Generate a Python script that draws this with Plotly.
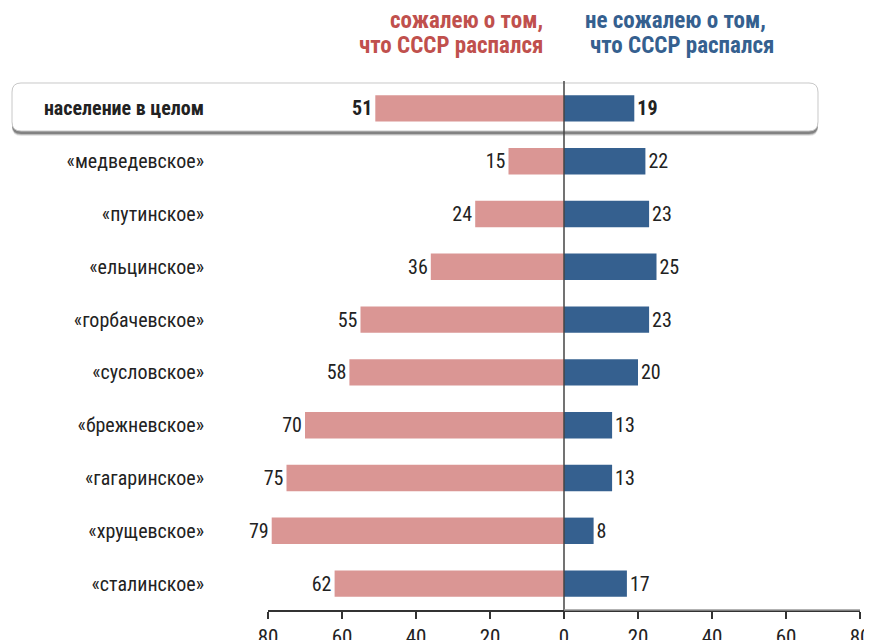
import plotly.graph_objects as go

categories = ["население в целом", "«медведевское»", "«путинское»", "«ельцинское»",
              "«горбачевское»", "«сусловское»", "«брежневское»", "«гагаринское»",
              "«хрущевское»", "«сталинское»"]
regret = [51, 15, 24, 36, 55, 58, 70, 75, 79, 62]
no_regret = [19, 22, 23, 25, 23, 20, 13, 13, 8, 17]
tick_vals = [-80, -60, -40, -20, 0, 20, 40, 60, 80]
tick_text = ["80", "60", "40", "20", "0", "20", "40", "60", "80"]

FONT = "Roboto Condensed, DejaVu Sans Condensed, sans-serif"
OFF = 8  # page body margin
W, H = 872 - OFF, 640 - OFF
L, R, T, B = 268 - OFF, 12, 82 - OFF, 30
PW, PH = W - L - R, H - T - B


def px(x):  # page pixel -> paper
    return (x - OFF - L) / PW


def py(y):
    return (H - B - (y - OFF)) / PH


def rounded(x0, y0, x1, y1, r):
    def P(x, y):
        return f"{px(x):.5f},{py(y):.5f}"
    return (f"M {P(x0 + r, y0)} L {P(x1 - r, y0)} Q {P(x1, y0)} {P(x1, y0 + r)} "
            f"L {P(x1, y1 - r)} Q {P(x1, y1)} {P(x1 - r, y1)} "
            f"L {P(x0 + r, y1)} Q {P(x0, y1)} {P(x0, y1 - r)} "
            f"L {P(x0, y0 + r)} Q {P(x0, y0)} {P(x0 + r, y0)} Z")


def lab(v, i):
    return f"<b>{v}</b>" if i == 0 else str(v)


ylabels = [f"<b>{c}</b>" if i == 0 else c for i, c in enumerate(categories)]

fig = go.Figure()
fig.add_trace(go.Bar(
    y=ylabels, x=[-v for v in regret], orientation="h",
    marker=dict(color="#DA9694", line=dict(width=0)),
    text=[lab(v, i) for i, v in enumerate(regret)], textposition="outside",
    textfont=dict(family=FONT, size=20, color="#222222"),
    cliponaxis=False, width=0.5, hoverinfo="skip", showlegend=False))
fig.add_trace(go.Bar(
    y=ylabels, x=no_regret, orientation="h",
    marker=dict(color="#35608F", line=dict(width=0)),
    text=[lab(v, i) for i, v in enumerate(no_regret)], textposition="outside",
    textfont=dict(family=FONT, size=20, color="#222222"),
    cliponaxis=False, width=0.5, hoverinfo="skip", showlegend=False))

shapes = []
for off, col in [(5, "rgba(0,0,0,0.10)"), (4, "rgba(0,0,0,0.18)"), (3, "rgba(0,0,0,0.30)")]:
    shapes.append(dict(type="path", xref="paper", yref="paper", layer="below",
                       path=rounded(12, 83 + off, 818, 131 + off, 9),
                       fillcolor=col, line=dict(width=0)))
shapes.append(dict(type="path", xref="paper", yref="paper", layer="below",
                   path=rounded(12, 83, 818, 131, 9),
                   fillcolor="white", line=dict(color="#c8c8c8", width=1)))
shapes.append(dict(type="line", xref="x", yref="paper", x0=0, x1=0, y0=0, y1=py(81),
                   line=dict(color="#444444", width=1.5), layer="above"))
shapes.append(dict(type="line", xref="x", yref="paper", x0=0, x1=80, y0=0, y1=0,
                   line=dict(color="#999999", width=1.5), layer="above"))

header = [
    ("<b>сожалею о том,</b>", px(545), py(20), "right", "#C0504D"),
    ("<b>что СССР распался</b>", px(545), py(45), "right", "#C0504D"),
    ("<b>не сожалею о том,</b>", px(675), py(20), "center", "#35608F"),
    ("<b>что СССР распался</b>", px(682), py(45), "center", "#35608F"),
]
annotations = [dict(xref="paper", yref="paper", x=x, y=y, xanchor=a, yanchor="middle",
                    showarrow=False, text=t, font=dict(family=FONT, size=23, color=c))
               for t, x, y, a, c in header]

fig.update_layout(
    width=W, height=H,
    margin=dict(l=L, r=R, t=T, b=B, pad=0, autoexpand=False),
    paper_bgcolor="white", plot_bgcolor="rgba(0,0,0,0)",
    barmode="overlay",
    font=dict(family=FONT, size=20, color="#222222"),
    shapes=shapes,
    xaxis=dict(range=[-80, 80], tickvals=tick_vals, ticktext=tick_text, automargin=False,
               showgrid=False, zeroline=False, showline=True, linecolor="#333333",
               linewidth=1.5, ticks="outside", ticklen=7, tickcolor="#333333",
               tickwidth=1.5, tickfont=dict(family=FONT, size=21, color="#222222"),
               fixedrange=True),
    yaxis=dict(categoryorder="array", categoryarray=ylabels, autorange="reversed",
               automargin=False, showgrid=False, zeroline=False, showline=False, ticks="",
               ticklabelstandoff=63, tickfont=dict(family=FONT, size=20, color="#222222"),
               fixedrange=True),
    annotations=annotations,
)

fig.write_html("out.html")
